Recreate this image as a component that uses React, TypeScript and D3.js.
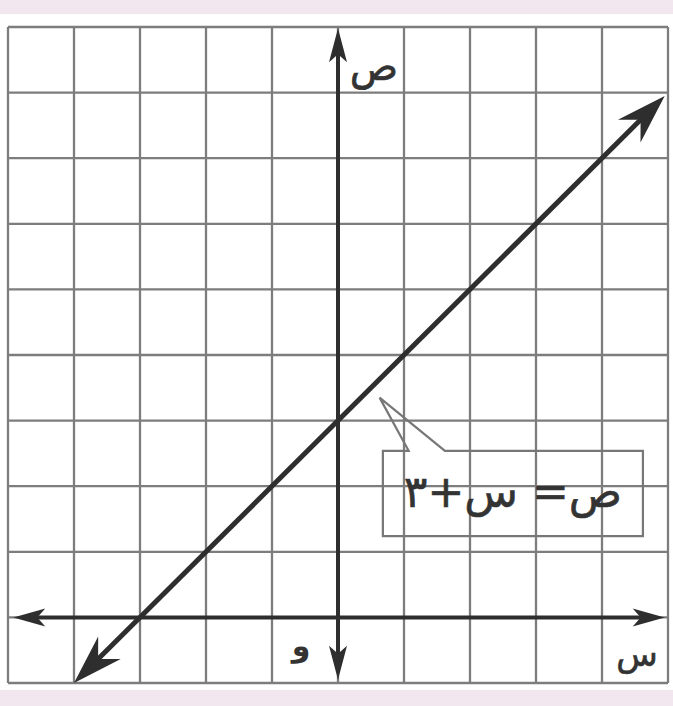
import React from 'react';
import * as d3 from 'd3';

// grid extent in graph units
const xTicks = [-5, -4, -3, -2, -1, 0, 1, 2, 3, 4, 5];
const yTicks = [-1, 0, 1, 2, 3, 4, 5, 6, 7, 8, 9];

// y = x + 3, drawn between its two arrow tips
const lineSlope = 1;
const lineIntercept = 3;
const lineXs = [-4, 4.95];

// axis arrow tips
const xAxisEnds = [-4.92, 4.95];
const yAxisEnds = [-0.95, 8.98];

// callout box + pointer (graph units)
const calloutBox = { x0: 0.68, x1: 4.62, y0: 1.24, y1: 2.54 };
const calloutPointer = { tipX: 0.63, tipY: 3.35, baseX0: 1.07, baseX1: 1.62 };
const equationLabel = 'ص= س+٣';

const W = 673;
const H = 706;

type Pt = [number, number];

function arrowHead(tip: Pt, from: Pt, len: number, half: number, notch: number) {
    const dx = tip[0] - from[0];
    const dy = tip[1] - from[1];
    const d = Math.hypot(dx, dy) || 1;
    const ux = dx / d;
    const uy = dy / d;
    const px = -uy;
    const py = ux;
    const bx = tip[0] - ux * len;
    const by = tip[1] - uy * len;
    const nx = tip[0] - ux * notch;
    const ny = tip[1] - uy * notch;
    return `M${tip[0]},${tip[1]}L${bx + px * half},${by + py * half}L${nx},${ny}L${bx - px * half},${by - py * half}Z`;
}

export default function App() {
    const x = d3.scaleLinear().domain([-5, 5]).range([8, 668]);
    const y = d3.scaleLinear().domain([-1, 9]).range([683, 27]);

    const lineFn = d3.line<number>().x((v) => x(v)).y((v) => y(lineSlope * v + lineIntercept));
    const lp0: Pt = [x(lineXs[0]), y(lineSlope * lineXs[0] + lineIntercept)];
    const lp1: Pt = [x(lineXs[1]), y(lineSlope * lineXs[1] + lineIntercept)];

    const xa0: Pt = [x(xAxisEnds[0]), y(0)];
    const xa1: Pt = [x(xAxisEnds[1]), y(0)];
    const ya0: Pt = [x(0), y(yAxisEnds[0])];
    const ya1: Pt = [x(0), y(yAxisEnds[1])];

    const b = calloutBox;
    const p = calloutPointer;
    const callout = [
        [x(p.baseX0), y(b.y1)],
        [x(p.tipX), y(p.tipY)],
        [x(p.baseX1), y(b.y1)],
        [x(b.x1), y(b.y1)],
        [x(b.x1), y(b.y0)],
        [x(b.x0), y(b.y0)],
        [x(b.x0), y(b.y1)],
    ] as Pt[];
    const calloutPath = d3.line()(callout) + 'Z';

    const axisColor = '#2e2e2e';
    const arabicFont = '"DejaVu Sans", "Noto Sans", sans-serif';

    return (
        <svg
            width={W}
            height={H}
            style={{ position: 'absolute', left: 0, top: 0 }}
        >
            <rect x={0} y={0} width={W} height={H} fill="#f3e7ef" />
            <rect x={0} y={14} width={W} height={676} fill="#ffffff" />

            {/* grid */}
            <g stroke="#7d7d7d" strokeWidth={2.3}>
                {xTicks.map((t) => (
                    <line key={`gx${t}`} x1={x(t)} x2={x(t)} y1={y(-1)} y2={y(9)} />
                ))}
                {yTicks.map((t) => (
                    <line key={`gy${t}`} x1={x(-5)} x2={x(5)} y1={y(t)} y2={y(t)} />
                ))}
            </g>

            {/* axes */}
            <g stroke={axisColor} strokeWidth={4}>
                <line x1={xa0[0] + 20} x2={xa1[0] - 20} y1={xa0[1]} y2={xa1[1]} />
                <line x1={ya0[0]} x2={ya1[0]} y1={ya0[1] - 20} y2={ya1[1] + 20} />
            </g>
            <g fill={axisColor}>
                <path d={arrowHead(xa0, xa1, 32, 9, 24)} />
                <path d={arrowHead(xa1, xa0, 32, 9, 24)} />
                <path d={arrowHead(ya0, ya1, 34, 9, 26)} />
                <path d={arrowHead(ya1, ya0, 34, 9, 26)} />
            </g>

            {/* y = x + 3 */}
            <path
                d={lineFn([lineXs[0] + 0.35, lineXs[1] - 0.35]) ?? ''}
                stroke={axisColor}
                strokeWidth={5}
                fill="none"
            />
            <g fill={axisColor}>
                <path d={arrowHead(lp0, lp1, 50, 16, 34)} />
                <path d={arrowHead(lp1, lp0, 50, 16, 34)} />
            </g>

            {/* callout */}
            <path d={calloutPath} fill="none" stroke="#777" strokeWidth={2.2} />
            <text
                x={x((b.x0 + b.x1) / 2)}
                y={y((b.y0 + b.y1) / 2) + 14}
                textAnchor="middle"
                direction="rtl"
                fontFamily={arabicFont}
                fontSize={44}
                fill="#333"
                stroke="#333"
                strokeWidth={0.6}
            >
                {equationLabel}
            </text>

            {/* axis labels */}
            <text x={374} y={80} textAnchor="middle" fontFamily={arabicFont} fontSize={40} fill="#333" stroke="#333" strokeWidth={0.6}>
                ص
            </text>
            <text x={637} y={666} textAnchor="middle" fontFamily={arabicFont} fontSize={34} fill="#333" stroke="#333" strokeWidth={0.6}>
                س
            </text>
            <text x={301} y={656} textAnchor="middle" fontFamily={arabicFont} fontSize={30} fontWeight="bold" fill="#333">
                و
            </text>
        </svg>
    );
}
